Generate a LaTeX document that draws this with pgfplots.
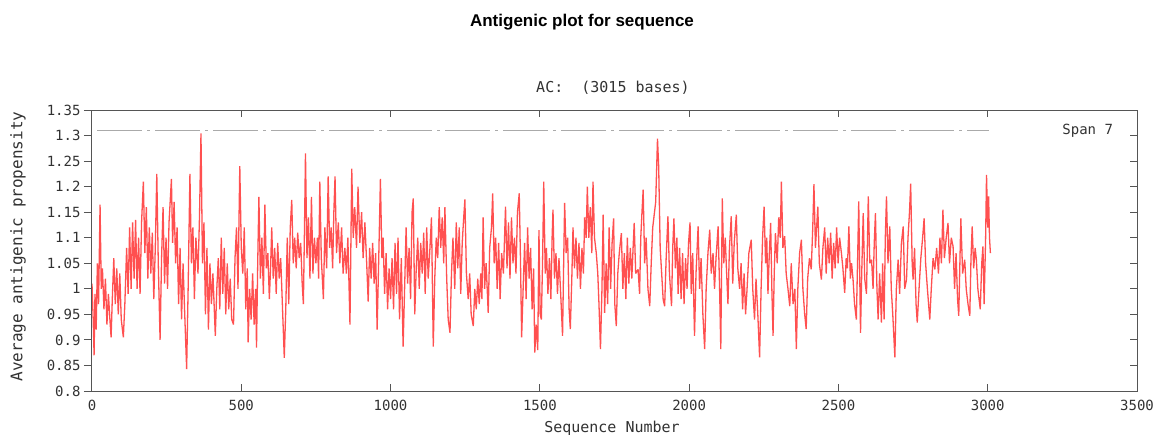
\documentclass[border=0pt]{standalone}
\usepackage{fontspec}
\usepackage{pgfplots}
\usepackage{pgfplotstable}
\pgfplotsset{compat=1.18}
\newfontfamily\monofont{DejaVu Sans Mono}
\newfontfamily\headfont{Liberation Sans}
\definecolor{trace}{RGB}{255,80,80}
\definecolor{spanline}{RGB}{170,170,170}
\definecolor{framec}{RGB}{85,85,85}
\definecolor{lbl}{RGB}{50,50,50}

% antigenic propensity
\pgfplotstableread{
x y
0 1.01
4 0.94
7 0.87
10 0.99
14 0.92
18 1.05
22 0.97
27 1.165
31 1.0
35 1.04
40 0.96
45 1.02
50 0.93
55 0.99
60 0.94
64 0.905
68 0.98
73 1.06
78 0.97
83 1.04
88 0.95
93 1.03
98 0.94
105 0.905
110 0.97
116 1.08
121 0.99
126 1.12
131 1.0
136 1.13
141 1.02
146 1.135
151 1.0
156 1.1
161 0.99
166 1.13
172 1.21
177 1.07
182 1.16
187 1.02
192 1.12
197 1.03
202 1.11
207 0.98
212 1.08
217 1.225
222 1.05
228 0.90
233 1.06
238 1.16
243 1.01
248 1.1
253 1.0
258 1.13
266 1.215
270 1.09
275 1.17
280 1.05
285 1.12
290 0.97
295 1.08
300 0.94
305 1.05
310 0.96
317 0.843
322 1.0
328 1.225
333 1.05
338 1.12
343 0.98
348 1.1
355 1.03
360 1.14
365 1.304
370 1.05
375 1.13
380 0.95
385 1.08
390 0.92
395 1.05
400 0.97
405 1.03
413 0.908
418 1.0
423 1.06
428 0.96
433 1.1
438 0.99
443 1.08
448 0.95
453 1.05
458 0.96
463 1.02
468 0.94
474 0.93
479 1.06
484 1.12
489 1.0
495 1.24
500 1.08
505 1.03
510 1.12
515 0.96
520 1.04
523 0.895
528 1.0
533 0.94
538 1.03
543 0.93
548 1.0
551 0.885
555 1.05
559 1.18
564 1.02
569 1.1
574 0.99
579 1.165
584 1.04
589 1.07
594 0.98
598 1.04
602 1.12
607 1.02
612 1.08
617 0.99
622 1.09
627 1.02
632 1.06
637 0.98
644 0.865
649 0.96
654 1.1
659 0.97
664 1.12
669 1.174
674 1.05
679 1.1
684 1.04
689 1.11
694 1.06
699 1.09
704 1.01
708 0.97
712 1.13
715 1.265
720 1.06
725 1.14
730 1.02
735 1.18
740 1.03
745 1.1
750 1.05
755 1.1
759 1.02
763 1.21
768 1.06
775 0.98
780 1.12
786 1.04
791 1.22
796 1.08
801 1.12
806 1.04
810 1.15
814 1.22
819 1.07
825 1.13
830 1.05
836 1.12
841 1.03
847 1.08
852 1.03
857 1.1
864 0.93
870 1.235
875 1.1
880 1.16
886 1.08
891 1.2
897 1.09
903 1.15
908 1.06
914 1.13
920 1.05
925 0.975
930 1.08
935 1.02
940 1.09
945 1.01
950 1.07
955 0.92
960 1.05
966 1.215
971 1.06
975 1.1
980 0.99
985 1.07
990 0.96
995 1.04
1000 0.98
1005 1.06
1010 0.96
1015 1.09
1020 0.99
1025 1.1
1030 0.94
1036 1.06
1042 0.887
1047 1.0
1052 1.12
1057 1.01
1062 1.08
1067 0.98
1072 1.15
1076 1.177
1081 0.95
1086 1.04
1091 1.1
1096 1.0
1101 1.09
1106 1.03
1111 1.11
1116 0.99
1121 1.12
1126 1.02
1131 1.07
1137 1.14
1143 0.887
1148 1.02
1153 1.1
1158 1.06
1163 1.16
1168 1.08
1173 1.14
1178 1.05
1182 1.16
1188 1.02
1193 0.94
1199 0.914
1204 1.03
1209 1.1
1215 1.0
1220 1.13
1225 1.04
1230 1.12
1235 0.99
1240 1.09
1245 1.14
1249 1.175
1254 1.03
1260 0.98
1265 1.03
1270 0.95
1277 0.927
1282 1.0
1287 0.96
1292 1.02
1297 0.97
1302 1.03
1306 0.98
1310 1.14
1315 1.0
1320 1.05
1327 0.953
1332 1.08
1338 1.12
1342 1.187
1347 1.05
1352 1.1
1357 1.0
1362 1.09
1367 0.98
1372 1.07
1378 1.03
1385 1.161
1390 1.04
1395 1.13
1400 1.02
1405 1.14
1410 1.05
1415 1.1
1420 1.03
1425 1.15
1431 1.187
1435 1.06
1439 0.905
1444 1.0
1449 1.09
1454 0.98
1459 1.12
1464 1.02
1469 1.08
1474 0.96
1479 1.04
1483 0.875
1488 0.93
1493 0.88
1497 1.115
1501 0.95
1505 0.94
1509 1.05
1513 1.21
1518 1.03
1522 1.08
1527 0.99
1532 1.06
1537 0.98
1541 1.1
1544 1.155
1549 1.02
1554 1.07
1559 0.99
1564 1.06
1569 1.0
1576 0.908
1580 1.06
1583 1.168
1588 1.07
1593 1.1
1598 0.96
1602 0.921
1607 1.02
1611 1.12
1616 1.04
1621 1.1
1626 1.02
1631 1.09
1636 1.0
1641 1.08
1646 1.03
1650 1.14
1655 1.1
1659 1.2
1664 1.1
1669 1.16
1674 1.07
1678 1.21
1683 1.1
1689 1.07
1694 1.03
1698 0.97
1703 0.882
1708 1.0
1712 1.145
1717 0.953
1722 1.05
1727 0.97
1732 1.12
1737 1.0
1742 1.09
1747 1.138
1751 0.97
1756 0.927
1761 1.03
1766 1.07
1773 1.109
1778 1.0
1783 1.07
1788 0.98
1793 1.1
1798 1.01
1803 1.08
1808 1.02
1813 1.09
1816 1.129
1821 1.03
1829 1.038
1834 0.99
1838 1.1
1842 1.15
1846 1.194
1851 1.05
1856 1.1
1862 1.0
1868 0.966
1873 1.05
1878 1.12
1883 1.145
1888 1.17
1894 1.294
1898 1.239
1903 1.08
1908 1.03
1913 0.979
1918 0.966
1923 1.06
1929 1.142
1934 1.03
1941 0.966
1945 1.08
1949 1.138
1954 1.04
1959 1.1
1963 0.99
1968 1.08
1973 0.98
1978 1.07
1983 0.97
1988 1.06
1993 1.0
1998 1.09
2003 1.13
2007 0.99
2012 1.07
2018 0.908
2023 1.03
2030 1.122
2035 1.0
2040 1.06
2046 0.95
2052 0.882
2057 1.0
2063 1.07
2069 1.116
2074 1.03
2080 1.07
2085 1.0
2090 1.06
2097 1.122
2102 1.0
2106 0.882
2111 1.177
2116 1.05
2121 1.1
2125 1.038
2130 0.97
2135 1.08
2141 1.142
2146 1.01
2151 1.09
2158 1.145
2163 1.04
2169 1.0
2174 1.05
2179 0.96
2184 1.03
2189 0.95
2194 1.0
2200 1.07
2208 1.096
2213 1.0
2219 0.94
2224 1.02
2230 0.95
2236 0.866
2241 1.0
2246 1.1
2251 1.161
2256 1.05
2260 1.1
2264 0.99
2268 1.06
2273 1.129
2277 1.0
2281 0.908
2285 1.03
2289 1.109
2295 1.05
2300 1.14
2305 1.1
2309 1.21
2314 1.08
2320 1.103
2325 1.03
2331 1.0
2337 0.966
2342 1.05
2348 0.97
2354 1.0
2359 0.882
2364 1.0
2370 1.07
2376 1.096
2381 1.0
2387 0.95
2392 0.921
2397 1.02
2403 1.06
2409 1.038
2414 1.12
2418 1.205
2423 1.08
2431 1.161
2436 1.05
2443 1.018
2448 1.08
2454 1.12
2459 1.03
2464 1.1
2469 1.05
2474 1.11
2479 1.02
2484 1.09
2489 1.04
2494 1.12
2499 1.05
2504 1.1
2510 1.07
2515 1.04
2521 0.992
2526 1.06
2530 1.04
2535 1.122
2540 1.02
2544 1.05
2549 1.018
2554 0.97
2560 0.94
2564 1.05
2568 1.171
2574 0.914
2578 1.03
2583 1.148
2588 1.02
2594 0.99
2600 1.181
2605 1.05
2611 1.057
2616 1.0
2620 1.09
2624 1.148
2629 1.0
2633 0.94
2638 1.03
2644 0.934
2648 1.05
2653 0.94
2657 1.1
2661 1.181
2666 1.05
2672 1.122
2677 1.0
2682 0.95
2689 0.866
2694 1.0
2700 1.057
2705 0.99
2711 1.09
2717 1.122
2722 1.0
2728 1.018
2733 1.1
2738 1.15
2742 1.206
2747 1.05
2750 1.018
2755 1.08
2760 0.97
2764 0.934
2770 1.0
2776 1.06
2782 1.1
2787 1.138
2792 1.05
2798 1.0
2802 0.97
2806 0.94
2811 1.0
2817 1.06
2823 1.038
2829 1.08
2835 1.03
2840 1.1
2845 1.05
2850 1.155
2855 1.06
2861 1.1
2867 1.129
2872 1.05
2878 1.1
2884 1.083
2889 1.0
2894 1.07
2899 0.98
2903 0.947
2910 1.138
2916 1.03
2923 1.057
2928 1.0
2934 0.97
2940 0.947
2944 1.06
2948 1.122
2953 1.04
2958 1.08
2962 1.057
2967 1.0
2971 0.98
2975 0.96
2980 1.05
2984 1.083
2988 0.97
2993 1.1
2996 1.223
3000 1.12
3003 1.181
3006 1.1
3009 1.07
}\antigenic

\begin{document}
\begin{tikzpicture}
\path[use as bounding box] (-92pt,-43pt) rectangle (1069pt,391pt);
% data axis, left ticks outside
\begin{axis}[
  scale only axis, width=1045pt, height=281pt,
  xmin=0, xmax=3500, ymin=0.8, ymax=1.35,
  xtick=\empty,
  ytick={0.8,0.85,0.9,0.95,1,1.05,1.1,1.15,1.2,1.25,1.3,1.35},
  yticklabels={0.8,0.85,0.9,0.95,1,1.05,1.1,1.15,1.2,1.25,1.3,1.35},
  ytick pos=left, tick align=outside, major tick length=8pt,
  tick style={framec, line width=1pt},
  axis line style={framec, line width=1pt},
  yticklabel style={font=\monofont\fontsize{14}{14}\selectfont, text=lbl},
  clip=false,
]
\addplot[trace, line width=1.3pt, line join=bevel] table {\antigenic};
\addplot[spanline, line width=1pt, dash pattern=on 45pt off 5pt on 3pt off 5pt]
  coordinates {(17,1.309) (3005,1.309)};
\node[font=\monofont\fontsize{14}{14}\selectfont, text=lbl] at (axis cs:3335,1.309) {Span 7};
\end{axis}
% frame with inner ticks
\begin{axis}[
  scale only axis, width=1045pt, height=281pt,
  xmin=0, xmax=3500, ymin=0.8, ymax=1.35,
  xtick={0,500,1000,1500,2000,2500,3000,3500},
  xticklabels={0,500,1000,1500,2000,2500,3000,3500},
  xtick pos=both, xticklabel pos=lower,
  ytick={0.8,0.85,0.9,0.95,1,1.05,1.1,1.15,1.2,1.25,1.3,1.35},
  yticklabels={},
  ytick pos=right,
  tick align=inside, major tick length=7pt,
  tick style={framec, line width=1pt},
  axis line style={framec, line width=1pt},
  xticklabel style={font=\monofont\fontsize{14}{14}\selectfont, text=lbl, yshift=-6pt},
]
\end{axis}
\node[font=\headfont\bfseries\fontsize{17}{17}\selectfont] at (490pt,369pt) {Antigenic plot for sequence};
\node[font=\monofont\fontsize{15}{15}\selectfont, text=lbl] at (521pt,303pt) {AC:\ \ (3015 bases)};
\node[font=\monofont\fontsize{15}{15}\selectfont, text=lbl, anchor=base] at (520pt,-41pt) {Sequence Number};
\node[font=\monofont\fontsize{16}{16}\selectfont, text=lbl, rotate=90] at (-74pt,144.5pt) {Average antigenic propensity};
\end{tikzpicture}
\end{document}
